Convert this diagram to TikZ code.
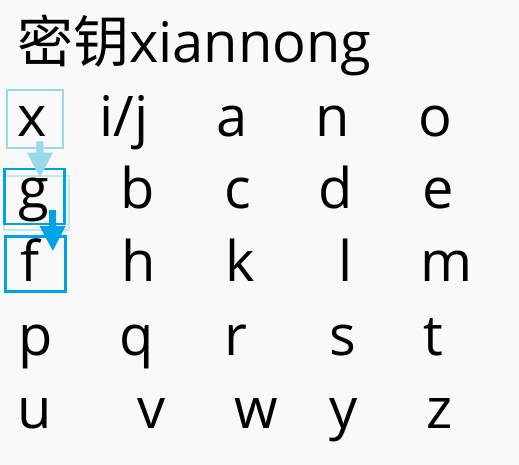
\documentclass[tikz,border=0pt]{standalone}
\usepackage{fontspec}
\setmainfont{Open Sans}
\newfontfamily\cjkfont{Noto Sans CJK SC}
\usetikzlibrary{arrows.meta,positioning}
\definecolor{lightturq}{HTML}{99D9EA}
\definecolor{turq}{HTML}{00A2E8}
\definecolor{paper}{HTML}{F9F9F9}

\begin{document}
\begin{tikzpicture}[x=0.75pt,y=-0.75pt]
\tikzstyle{every node}=[font=\fontsize{42}{50}\selectfont, inner sep=0pt]
\tikzstyle{letter}=[anchor=base]
\tikzstyle{keybox}=[draw, line width=1.9pt, minimum width=45pt, minimum height=41pt]
\tikzstyle{movearrow}=[line width=5.25pt, -{Triangle[width=18pt,length=19pt]}]

\fill[paper] (0,0) rectangle (519,465);

\node[anchor=base west] at (17,62) (title) {{\cjkfont 密钥}xiannong};

% row 1
\node[letter] at (32,136) (kx) {x};
\node[letter] at (124,136) (kij) {i/j};
\node[letter] at (232,136) (ka) {a};
\node[letter] at (333,136) (kn) {n};
\node[letter] at (435,136) (ko) {o};
% row 2
\node[letter] at (34,208) (kg) {g};
\node[letter] at (138,208) (kb) {b};
\node[letter] at (238,208) (kc) {c};
\node[letter] at (336,208) (kd) {d};
\node[letter] at (438,208) (ke) {e};
% row 3
\node[letter] at (30,281) (kf) {f};
\node[letter] at (139,281) (kh) {h};
\node[letter] at (240,281) (kk) {k};
\node[letter] at (346,281) (kl) {l};
\node[letter] at (447,281) (km) {m};
% row 4
\node[letter] at (36,355) (kp) {p};
\node[letter] at (137,355) (kq) {q};
\node[letter] at (236,355) (kr) {r};
\node[letter] at (343,355) (ks) {s};
\node[letter] at (433,355) (kt) {t};
% row 5
\node[letter] at (35,428) (ku) {u};
\node[letter] at (152,428) (kv) {v};
\node[letter] at (256,428) (kw) {w};
\node[letter] at (344,428) (ky) {y};
\node[letter] at (440,428) (kz) {z};

% boxes
\node[keybox, draw=lightturq, line width=2.2pt, minimum width=42pt, minimum height=43.5pt] at (35,119) (bx) {};
\node[keybox, draw=lightturq!60, minimum width=48.75pt, minimum height=40.5pt] at (36.5,203) (bgl) {};
\node[keybox, draw=turq] at (34.5,196.5) (bg) {};
\node[keybox, draw=turq] at (35.5,264) (bf) {};

\draw[movearrow, lightturq] ([xshift=3.75pt, yshift=6pt]bx.south) -- ([xshift=4.1pt, yshift=-7.5pt]bg.north);
\draw[movearrow, turq] ([xshift=13.5pt, yshift=11.25pt]bg.south) -- ([xshift=13pt, yshift=-12pt]bf.north);

\end{tikzpicture}
\end{document}
